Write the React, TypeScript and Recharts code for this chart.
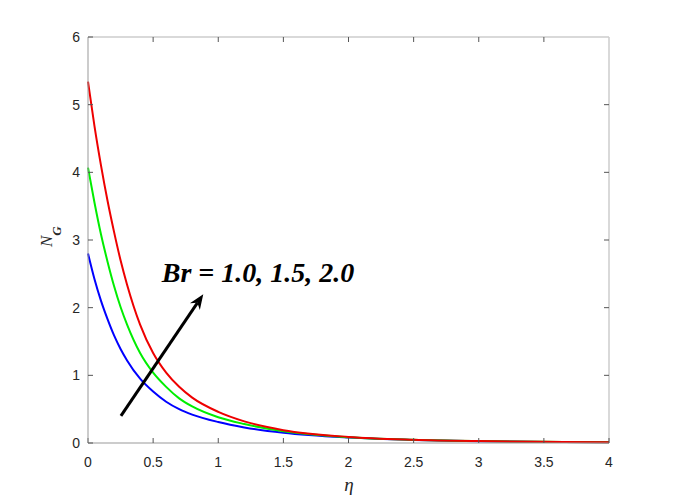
import React from 'react';
import { LineChart, Line, XAxis, YAxis, ReferenceLine, ReferenceDot } from 'recharts';

const eta = [0, 0.05, 0.1, 0.15, 0.2, 0.25, 0.3, 0.4, 0.5, 0.6, 0.7, 0.8, 1.0, 1.2, 1.5, 2.0, 2.5, 3.0, 3.5, 4.0];
const ngBr10 = [2.80, 2.42, 2.10, 1.83, 1.59, 1.39, 1.22, 0.95, 0.76, 0.61, 0.50, 0.42, 0.31, 0.23, 0.15, 0.08, 0.045, 0.027, 0.016, 0.01];
const ngBr15 = [4.07, 3.55, 3.08, 2.68, 2.32, 2.01, 1.75, 1.33, 1.04, 0.83, 0.66, 0.54, 0.38, 0.28, 0.175, 0.085, 0.047, 0.028, 0.017, 0.011];
const ngBr20 = [5.34, 4.68, 4.10, 3.58, 3.12, 2.70, 2.34, 1.75, 1.33, 1.04, 0.83, 0.67, 0.46, 0.32, 0.19, 0.09, 0.048, 0.028, 0.017, 0.011];
const xTicks = [0, 0.5, 1, 1.5, 2, 2.5, 3, 3.5, 4];
const yTicks = [0, 1, 2, 3, 4, 5, 6];
const xMax = 4;
const yMax = 6;
const annotation = 'Br = 1.0, 1.5, 2.0';
const arrowFrom = { x: 0.253, y: 0.40 };
const arrowTo = { x: 0.885, y: 2.20 };
const labelAt = { x: 0.566, y: 2.38 };

const data = eta.map((e, i) => ({ eta: e, b1: ngBr10[i], b2: ngBr15[i], b3: ngBr20[i] }));

const tickStyle = { fontFamily: 'Liberation Sans, Arial, sans-serif', fontSize: 14, fill: '#262626' };

const Arrow = (props: any) => {
  const { x1, y1, x2, y2 } = props;
  const ang = Math.atan2(y2 - y1, x2 - x1);
  const len = 15;
  const wid = 6;
  const bx = x2 - len * Math.cos(ang);
  const by = y2 - len * Math.sin(ang);
  const px = -Math.sin(ang) * wid;
  const py = Math.cos(ang) * wid;
  const ix = x2 - len * 0.7 * Math.cos(ang);
  const iy = y2 - len * 0.7 * Math.sin(ang);
  return (
    <g>
      <line x1={x1} y1={y1} x2={ix} y2={iy} stroke="#000" strokeWidth={3} />
      <polygon points={`${x2},${y2} ${bx + px},${by + py} ${ix},${iy} ${bx - px},${by - py}`} fill="#000" />
    </g>
  );
};

const BoxLine = (props: any) => {
  const { x1, y1, x2, y2 } = props;
  return <line x1={x1} y1={y1} x2={x2} y2={y2} stroke="#cdcdcd" strokeWidth={1.5} />;
};

const TopTick = (props: any) => {
  const { x1, y1 } = props;
  return <line x1={x1} y1={y1} x2={x1} y2={y1 + 5} stroke="#555" strokeWidth={1} />;
};

const RightTick = (props: any) => {
  const { x1, y1 } = props;
  return <line x1={x1} y1={y1} x2={x1 - 5} y2={y1} stroke="#555" strokeWidth={1} />;
};

export default function App() {
  return (
    <div style={{ position: 'absolute', left: 0, top: 0, width: 673, height: 498, background: '#fff' }}>
      <LineChart width={673} height={498} data={data} margin={{ top: 37, right: 64, bottom: 25, left: 48 }}>
        <XAxis
          dataKey="eta"
          type="number"
          domain={[0, xMax]}
          ticks={xTicks}
          interval={0}
          height={30}
          axisLine={{ stroke: '#999', strokeWidth: 1 }}
          tickLine={{ stroke: '#555' }}
          tickSize={-5}
          tickMargin={19}
          tick={tickStyle}
          label={{
            content: () => (
              <text x={349} y={491} textAnchor="middle" fontFamily="Liberation Serif, Times New Roman, serif" fontStyle="italic" fontSize={19} fill="#262626">η</text>
            ),
          }}
        />
        <YAxis
          type="number"
          domain={[0, yMax]}
          ticks={yTicks}
          interval={0}
          width={40}
          axisLine={{ stroke: '#999', strokeWidth: 1 }}
          tickLine={{ stroke: '#555' }}
          tickSize={-5}
          tickMargin={13}
          tick={tickStyle}
          label={{
            content: () => (
              <text transform="rotate(-90, 51.7, 247)" x={51.7} y={247} textAnchor="start" fontFamily="Liberation Serif, Times New Roman, serif" fill="#262626">
                <tspan fontStyle="italic" fontSize={17}>N</tspan>
                <tspan fontStyle="italic" fontWeight="bold" fontSize={13} dy={9}>G</tspan>
              </text>
            ),
          }}
        />
        <ReferenceLine y={yMax} shape={BoxLine} ifOverflow="visible" />
        <ReferenceLine x={xMax} shape={BoxLine} ifOverflow="visible" />
        {xTicks.slice(1, -1).map((t) => (
          <ReferenceLine key={'tt' + t} segment={[{ x: t, y: yMax }, { x: t, y: yMax }]} shape={TopTick} ifOverflow="visible" />
        ))}
        {yTicks.slice(1, -1).map((t) => (
          <ReferenceLine key={'rt' + t} segment={[{ x: xMax, y: t }, { x: xMax, y: t }]} shape={RightTick} ifOverflow="visible" />
        ))}
        <Line type="monotone" dataKey="b1" stroke="#0000ff" strokeWidth={2} dot={false} isAnimationActive={false} />
        <Line type="monotone" dataKey="b2" stroke="#00ee00" strokeWidth={2} dot={false} isAnimationActive={false} />
        <Line type="monotone" dataKey="b3" stroke="#ee0000" strokeWidth={2} dot={false} isAnimationActive={false} />
        <ReferenceLine segment={[arrowFrom, arrowTo]} shape={Arrow} ifOverflow="visible" />
        <ReferenceDot
          x={labelAt.x}
          y={labelAt.y}
          r={0}
          fill="none"
          stroke="none"
          ifOverflow="visible"
          label={{
            content: (p: any) => {
              const vb = p.viewBox || {};
              return (
                <text x={vb.x} y={vb.y} textAnchor="start" fontFamily="Liberation Serif, Times New Roman, serif" fontStyle="italic" fontWeight="bold" fontSize={28} fill="#000">
                  {annotation}
                </text>
              );
            },
          }}
        />
      </LineChart>
    </div>
  );
}
